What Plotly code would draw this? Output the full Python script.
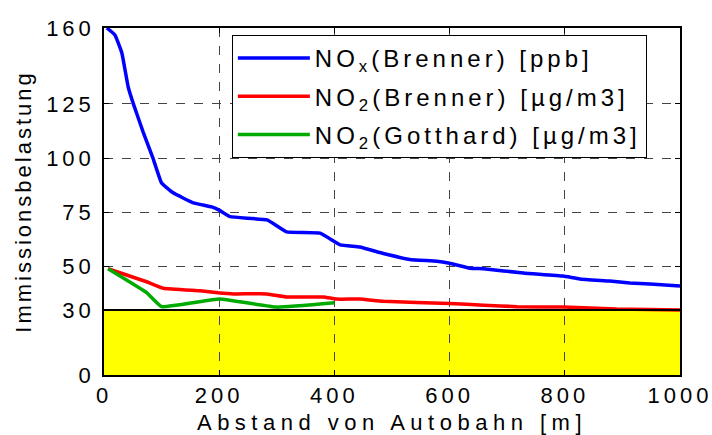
import plotly.graph_objects as go

# Data
nox_x = [5, 19, 31, 42, 51, 68, 85, 100, 120, 155, 187, 200, 219, 283, 317, 375, 410, 444, 485, 531, 578, 600, 635, 659, 728, 797, 826, 878, 913, 948, 1000]
nox_y = [160, 156.8, 148.5, 132.8, 125, 112, 100, 88.5, 84, 79.4, 77.5, 76, 73, 71.5, 66, 65.4, 60, 59, 56, 53.3, 52.5, 51.5, 49.2, 49, 47, 45.6, 44.3, 43.3, 42.4, 42, 41]

no2b_x = [7, 74, 103, 167, 198, 225, 283, 317, 381, 404, 444, 485, 600, 659, 717, 797, 890, 1000]
no2b_y = [49, 43, 40, 38.8, 37.9, 37.4, 37.4, 36, 36, 35, 35, 34, 33, 32.2, 31.5, 31.3, 30.4, 30]

no2g_x = [7, 74, 100, 200, 300, 400]
no2g_y = [49, 38, 31.5, 35, 31.3, 33.3]

limit_value = 30
x_ticks = [0, 200, 400, 600, 800, 1000]
y_ticks = [0, 30, 50, 75, 100, 125, 160]

names = ["NO<sub>x</sub>(Brenner) [ppb]", "NO<sub>2</sub>(Brenner) [µg/m3]", "NO<sub>2</sub>(Gotthard) [µg/m3]"]
colors = ["#0000ff", "#ff0000", "#00aa00"]

fig = go.Figure()
for i, (xs, ys, n, c) in enumerate(zip([nox_x, no2b_x, no2g_x], [nox_y, no2b_y, no2g_y], names, colors)):
    fig.add_trace(go.Scatter(x=xs, y=ys, mode="lines", name=n, legendgroup=f"g{i}",
                             line=dict(color=c, width=3.5, shape="spline", smoothing=0.3)))

fig.add_shape(type="rect", xref="x", yref="y", x0=0, x1=1000, y0=0, y1=limit_value,
              fillcolor="#ffff00", line=dict(width=0), layer="below")
fig.add_shape(type="line", xref="x", yref="y", x0=0, x1=1000, y0=limit_value, y1=limit_value,
              line=dict(color="black", width=2), layer="above")

axis_common = dict(showline=True, linecolor="black", linewidth=1.5, mirror="ticks",
                   ticks="inside", ticklen=5, tickcolor="black",
                   showgrid=True, gridcolor="#444444", griddash="dash", gridwidth=1,
                   zeroline=False, automargin=False, ticklabeloverflow="allow")

fig.update_xaxes(range=[0, 1000], tickvals=x_ticks,
                 title=dict(text="Abstand von Autobahn [m]", font=dict(size=22), standoff=10),
                 **axis_common)
fig.update_yaxes(range=[0, 160], tickvals=y_ticks, ticklabelstandoff=3,
                 title=dict(text="Immissionsbelastung", font=dict(size=22), standoff=8),
                 **axis_common)

fig.update_layout(
    width=712, height=435,
    margin=dict(l=104, r=32, t=28, b=60),
    plot_bgcolor="white", paper_bgcolor="white",
    font=dict(family="Liberation Sans, Arial, sans-serif", size=22, color="black"),
    legend=dict(x=0.222, y=0.98, xanchor="left", yanchor="top",
                bordercolor="black", borderwidth=1, bgcolor="white",
                font=dict(size=24),
                itemwidth=72, tracegroupgap=4),
)

post = """
var gd = document.getElementById('{plot_id}');
var s = document.createElement('style');
s.innerHTML = 'svg text{letter-spacing:4px;} svg text.ytitle{letter-spacing:3px;} svg text.xtitle{letter-spacing:5.5px;}';
document.head.appendChild(s);
return Plotly.relayout(gd, {'font.family': 'Liberation Sans, Arial'});
"""
fig.write_html("out.html", post_script=post)
